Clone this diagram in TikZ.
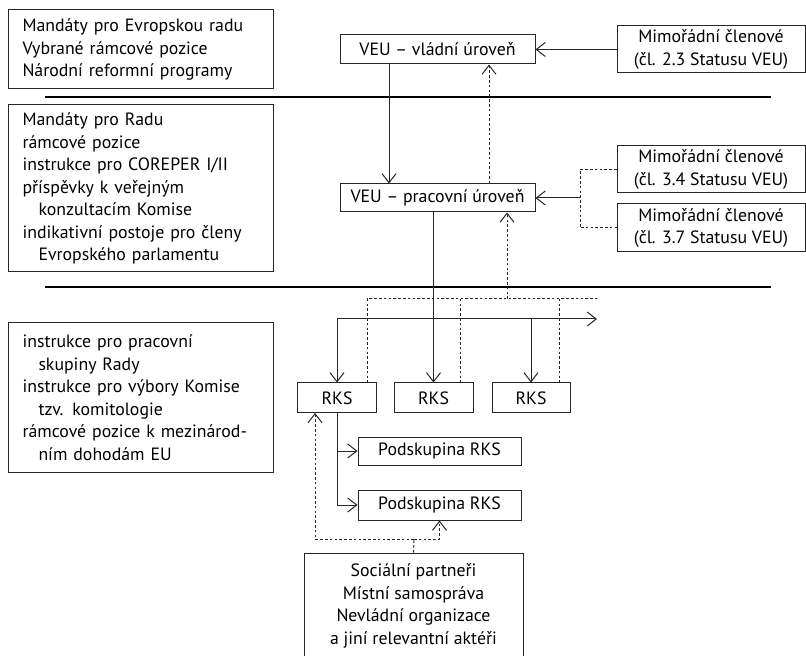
\documentclass[tikz,border=0pt]{standalone}
\usepackage{fontspec}
\setmainfont{PT Sans}
\usepackage{tikz}
\usetikzlibrary{arrows.meta, positioning, calc}

\begin{document}
\begin{tikzpicture}[x=0.5pt, y=-0.5pt,
    font=\fontsize{8.9}{11.25}\selectfont,
    every node/.style={inner sep=0pt},
    box/.style={draw=black!85, line width=0.5pt, rectangle, align=center},
    leftbox/.style={box, align=left, text width=118pt, inner xsep=7pt,
        minimum width=132.5pt},
    arr/.style={draw=black!85, line width=0.5pt,
        -{Straight Barb[length=4.5pt, width=7pt]}},
    dots/.style={draw=black!85, line width=0.5pt, dash pattern=on 1.3pt off 1.1pt},
    dotarr/.style={dots, -{Straight Barb[length=4.5pt, width=7pt]}},
    divider/.style={line width=1pt}]

    \useasboundingbox (0,0) rectangle (806,656);

    % ============================================================
    % LEFT COLUMN (TEXT BOXES AND DIVIDERS)
    % ============================================================
    \node[leftbox, minimum height=39.5pt] (doc1) at (140.5,49.5)
        {Mandáty pro Evropskou radu\\
         Vybrané rámcové pozice\\
         Národní reformní programy};
    \draw[divider] (45,97) -- (771,97);

    \node[leftbox, minimum height=83.5pt] (doc2) at (140.5,188.5)
        {Mandáty pro Radu\\
         rámcové pozice\\
         instrukce pro COREPER I/II\\
         příspěvky k veřejným\\
         \hspace*{8pt}konzultacím Komise\\
         indikativní postoje pro členy\\
         \hspace*{8pt}Evropského parlamentu};
    \draw[divider] (45,287) -- (771,287);

    \node[leftbox, minimum height=74.5pt] (doc3) at (140.5,397.5)
        {instrukce pro pracovní\\
         \hspace*{8pt}skupiny Rady\\
         instrukce pro výbory Komise\\
         \hspace*{8pt}tzv. komitologie\\
         rámcové pozice k mezinárod-\\
         \hspace*{8pt}ním dohodám EU};

    % ============================================================
    % VEU LEVELS
    % ============================================================
    \node[box, minimum width=97.5pt, minimum height=14.5pt] (vladni) at (437.5,49.5)
        {VEU -- vládní úroveň};
    \node[box, minimum width=97.5pt, minimum height=14pt] (pracovni) at (437.5,198)
        {VEU -- pracovní úroveň};

    \node[box, minimum width=94pt, minimum height=23.5pt] (mim23) at (711,49.5)
        {Mimořádní členové\\(čl. 2.3 Statusu VEU)};
    \node[box, minimum width=94pt, minimum height=23.5pt] (mim34) at (711,169.5)
        {Mimořádní členové\\(čl. 3.4 Statusu VEU)};
    \node[box, minimum width=94pt, minimum height=24pt] (mim37) at (711,228)
        {Mimořádní členové\\(čl. 3.7 Statusu VEU)};

    \draw[arr] (mim23) -- (vladni);
    \draw[arr] ([xshift=-24.25pt]vladni.south) -- ([xshift=-24.25pt]pracovni.north);
    \draw[dotarr] ([xshift=25.75pt]pracovni.north) -- ([xshift=25.75pt]vladni.south);

    \coordinate (mimjoin) at (580,198);
    \draw[dots] (mim34.west) -| (mimjoin) |- (mim37.west);
    \draw[arr] (mimjoin) -- (pracovni.east);

    % ============================================================
    % RKS GROUPS
    % ============================================================
    \node[box, minimum width=39.5pt, minimum height=15pt] (rks1) at (337,398) {RKS};
    \node[box, minimum width=39.5pt, minimum height=15pt] (rks2) at (433.5,398) {RKS};
    \node[box, minimum width=39pt, minimum height=15pt] (rks3) at (531,398) {RKS};

    % solid distribution line
    \coordinate (busL) at (337,319);
    \coordinate (busR) at (597,319);
    \draw[arr] (busL) -- (busR);
    \draw[arr] (busL) -- (rks1.north);
    \draw[arr] (busL -| rks3.north) -- (rks3.north);
    \draw[arr] (pracovni.south -| rks2.north) -- (rks2.north);

    % dotted feedback line
    \coordinate (fbL) at (367,299);
    \coordinate (fbR) at (597,299);
    \coordinate (fbUp) at (507,299);
    \coordinate (rks1top) at (367,383);
    \coordinate (rks2top) at (460,383);
    \coordinate (rks3top) at (559,383);
    \draw[dots] (rks1top) -- (fbL) -- (fbR);
    \draw[dots] (rks2top) -- (rks2top |- fbL);
    \draw[dots] (rks3top) -- (rks3top |- fbL);
    \draw[dotarr] (fbUp) -- (fbUp |- pracovni.south);

    % ============================================================
    % SUBGROUPS AND PARTNERS
    % ============================================================
    \node[box, minimum width=81.5pt, minimum height=14pt] (pod1) at (439.5,451)
        {Podskupina RKS};
    \node[box, minimum width=81.5pt, minimum height=15pt] (pod2) at (439.5,505)
        {Podskupina RKS};
    \draw[arr] (rks1.south) |- (pod1.west);
    \draw[arr] (rks1.south) |- (pod2.west);

    \node[box, minimum width=109.5pt, minimum height=53pt] (partneri) at (413.5,606)
        {Sociální partneři\\
         Místní samospráva\\
         Nevládní organizace\\
         a jiní relevantní aktéři};

    \coordinate (pjoin) at (414,539);
    \coordinate (rks1low) at (315,413);
    \draw[dots] (partneri.north) -- (pjoin);
    \draw[dotarr] (pjoin) -| (pod2.south);
    \draw[dotarr] (pjoin) -| (rks1low);

\end{tikzpicture}
\end{document}
